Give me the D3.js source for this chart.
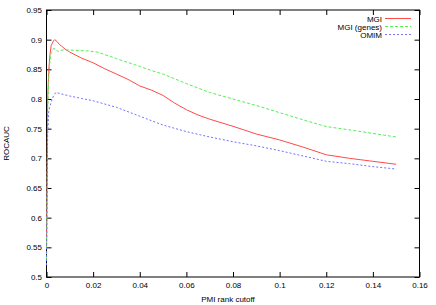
<!DOCTYPE html>
<html>
<head>
<meta charset="utf-8">
<script src="https://cdn.jsdelivr.net/npm/d3@7"></script>
<style>
  body { margin: 0; background: #fff; }
  text { font-family: "Liberation Sans", Arial, sans-serif; font-size: 8px; fill: #000; }
</style>
</head>
<body>
<div id="chart"></div>
<script>
(function(){

  var width = 436;
  var height = 305;

  // rank cutoff values and ROCAUC per series
  var mgiX = [0, 0.0005, 0.001, 0.0015, 0.002, 0.003, 0.0035, 0.0045, 0.0055, 0.0065, 0.008, 0.01, 0.015, 0.02, 0.025, 0.03, 0.035, 0.04, 0.045, 0.05, 0.055, 0.06, 0.065, 0.07, 0.08, 0.09, 0.1, 0.11, 0.12, 0.13, 0.14, 0.15];
  var mgiY = [0.55, 0.80, 0.85, 0.875, 0.89, 0.898, 0.9, 0.897, 0.892, 0.889, 0.884, 0.879, 0.869, 0.861, 0.851, 0.842, 0.833, 0.822, 0.815, 0.806, 0.793, 0.782, 0.773, 0.766, 0.754, 0.741, 0.731, 0.719, 0.706, 0.700, 0.695, 0.690];

  var genesX = [0, 0.0005, 0.001, 0.0015, 0.002, 0.003, 0.004, 0.005, 0.006, 0.008, 0.012, 0.018, 0.022, 0.03, 0.04, 0.045, 0.05, 0.06, 0.07, 0.08, 0.09, 0.1, 0.11, 0.12, 0.13, 0.14, 0.15];
  var genesY = [0.53, 0.78, 0.84, 0.865, 0.878, 0.885, 0.884, 0.880, 0.882, 0.883, 0.882, 0.881, 0.879, 0.868, 0.855, 0.848, 0.842, 0.826, 0.811, 0.800, 0.789, 0.777, 0.765, 0.7535, 0.748, 0.742, 0.736];

  var omimX = [0, 0.0005, 0.001, 0.002, 0.003, 0.004, 0.006, 0.01, 0.015, 0.02, 0.03, 0.04, 0.05, 0.06, 0.07, 0.08, 0.09, 0.1, 0.11, 0.12, 0.13, 0.14, 0.15];
  var omimY = [0.52, 0.74, 0.78, 0.795, 0.805, 0.811, 0.809, 0.805, 0.801, 0.797, 0.786, 0.771, 0.756, 0.745, 0.736, 0.728, 0.721, 0.713, 0.704, 0.695, 0.691, 0.686, 0.682];

  var xTicks = [0, 0.02, 0.04, 0.06, 0.08, 0.1, 0.12, 0.14, 0.16];
  var yTicks = [0.5, 0.55, 0.6, 0.65, 0.7, 0.75, 0.8, 0.85, 0.9, 0.95];

  var seriesNames = ['MGI', 'MGI (genes)', 'OMIM'];

  var series = [
    {name: seriesNames[0], xs: mgiX, ys: mgiY, color: '#ff4a4a', dash: null},
    {name: seriesNames[1], xs: genesX, ys: genesY, color: '#55ee55', dash: '3,2'},
    {name: seriesNames[2], xs: omimX, ys: omimY, color: '#7272ff', dash: '2,2'}
  ];

  var left = 46.5, right = 419.5, top = 10, bottom = 277;

  var x = d3.scaleLinear().domain([0, 0.16]).range([left, right]);
  var y = d3.scaleLinear().domain([0.5, 0.95]).range([bottom, top]);

  var svg = d3.select('#chart')
    .append('svg')
      .attr('width', width)
      .attr('height', height);

  var fmt = function(d){ return String(+d.toFixed(2)); };

  // axes with inward ticks, mirrored on top and right
  var gx = svg.append('g').attr('transform', 'translate(0,' + bottom + ')')
    .call(d3.axisBottom(x).tickValues(xTicks).tickSize(-5).tickSizeOuter(0).tickPadding(5).tickFormat(fmt));
  var gxt = svg.append('g').attr('transform', 'translate(0,' + top + ')')
    .call(d3.axisTop(x).tickValues(xTicks).tickSize(-5).tickSizeOuter(0).tickFormat(''));
  var gy = svg.append('g').attr('transform', 'translate(' + left + ',0)')
    .call(d3.axisLeft(y).tickValues(yTicks).tickSize(-5).tickSizeOuter(0).tickPadding(4.5).tickFormat(fmt));
  var gyr = svg.append('g').attr('transform', 'translate(' + right + ',0)')
    .call(d3.axisRight(y).tickValues(yTicks).tickSize(-5).tickSizeOuter(0).tickFormat(''));

  [gx, gxt, gy, gyr].forEach(function(g){
    g.select('.domain').remove();
    g.selectAll('.tick line').attr('stroke', '#000');
    g.selectAll('text').attr('font-family', null).attr('font-size', null).attr('fill', null);
  });

  // border
  svg.append('rect')
    .attr('x', left).attr('y', top)
    .attr('width', right - left).attr('height', bottom - top)
    .attr('fill', 'none').attr('stroke', '#000').attr('stroke-width', 1);

  var line = d3.line()
    .x(function(d){ return x(d[0]); })
    .y(function(d){ return y(d[1]); });

  series.forEach(function(s){
    var pts = s.xs.map(function(v, i){ return [v, s.ys[i]]; });
    svg.append('path')
      .datum(pts)
      .attr('d', line)
      .attr('fill', 'none')
      .attr('stroke', s.color)
      .attr('stroke-width', 1)
      .attr('stroke-dasharray', s.dash);
  });

  // legend
  var legend = svg.append('g');
  series.forEach(function(s, i){
    var ly = 18.5 + i * 8;
    legend.append('text')
      .attr('x', 382).attr('y', ly + 3)
      .attr('text-anchor', 'end')
      .text(s.name);
    legend.append('line')
      .attr('x1', 385).attr('x2', 411)
      .attr('y1', ly).attr('y2', ly)
      .attr('stroke', s.color)
      .attr('stroke-dasharray', s.dash);
  });

  // axis titles
  svg.append('text')
    .attr('x', 228).attr('y', 302)
    .attr('text-anchor', 'middle')
    .text('PMI rank cutoff');

  svg.append('text')
    .attr('transform', 'translate(9,143.5) rotate(-90)')
    .attr('text-anchor', 'middle')
    .text('ROCAUC');

})();
</script>
</body>
</html>
